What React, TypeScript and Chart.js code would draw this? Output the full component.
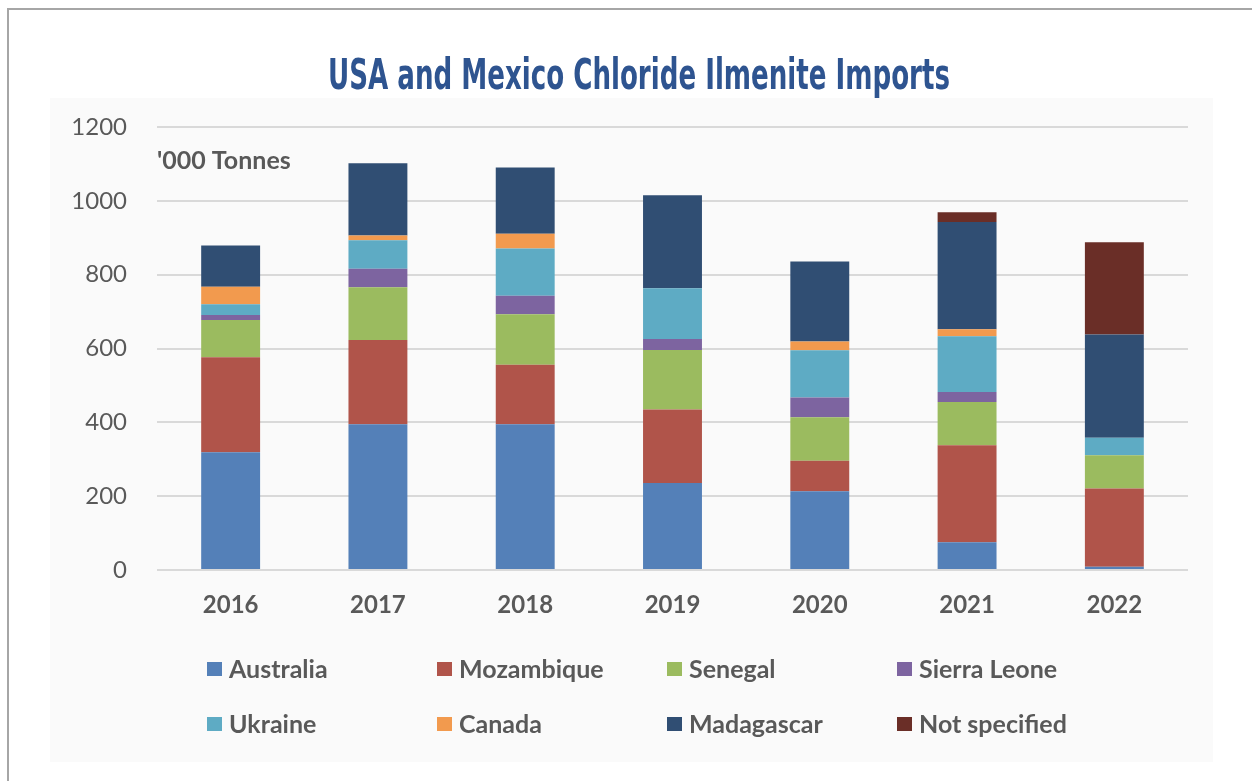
import React, { useEffect, useRef } from "react";
import { Chart, registerables } from "chart.js";

Chart.register(...registerables);

const chartTitle = "USA and Mexico Chloride Ilmenite Imports";
const unitLabel = "'000 Tonnes";
const years = ["2016", "2017", "2018", "2019", "2020", "2021", "2022"];
const yTickValues = [0, 200, 400, 600, 800, 1000, 1200];

const australia = [319, 395, 395, 236, 213, 75, 9];
const mozambique = [257, 228, 161, 199, 83, 263, 212];
const senegal = [101, 143, 137, 161, 118, 117, 90];
const sierraLeone = [14, 50, 50, 30, 53, 27, 0];
const ukraine = [29, 77, 128, 137, 128, 151, 47];
const canada = [47, 13, 40, 0, 24, 19, 0];
const madagascar = [112, 196, 179, 252, 217, 291, 280];
const notSpecified = [0, 0, 0, 0, 0, 26, 250];

const seriesNames = [
  "Australia",
  "Mozambique",
  "Senegal",
  "Sierra Leone",
  "Ukraine",
  "Canada",
  "Madagascar",
  "Not specified",
];
const seriesValues = [australia, mozambique, senegal, sierraLeone, ukraine, canada, madagascar, notSpecified];
const seriesColors = ["#5480B8", "#B0544A", "#9BBB5F", "#7D64A0", "#5EABC4", "#F29A4E", "#304E73", "#6A2E27"];

const TEXT_GRAY = "#595959";
const LABEL_FONT = "Lato, 'Open Sans', sans-serif";

const decorPlugin = {
  id: "decor",
  beforeDraw(chart: any) {
    const ctx = chart.ctx;
    ctx.save();
    ctx.fillStyle = "#ffffff";
    ctx.fillRect(0, 0, chart.width, chart.height);
    ctx.fillStyle = "#fafafa";
    ctx.fillRect(50, 98, 1163, 664);
    ctx.strokeStyle = "#a6a6a6";
    ctx.lineWidth = 2;
    ctx.beginPath();
    ctx.moveTo(8, chart.height);
    ctx.lineTo(8, 9);
    ctx.lineTo(chart.width, 9);
    ctx.stroke();
    ctx.restore();
  },
  afterDraw(chart: any) {
    const ctx = chart.ctx;
    ctx.save();
    // Title (condensed)
    ctx.font = "bold 42px 'Liberation Sans Narrow', 'DejaVu Sans Condensed', sans-serif";
    const w = ctx.measureText(chartTitle).width;
    const target = 622;
    ctx.fillStyle = "#2E5490";
    ctx.textBaseline = "middle";
    ctx.textAlign = "left";
    ctx.translate(328, 78);
    ctx.scale(target / w, 1);
    ctx.fillText(chartTitle, 0, 0);
    ctx.restore();

    ctx.save();
    ctx.font = `bold 25px ${LABEL_FONT}`;
    ctx.fillStyle = TEXT_GRAY;
    ctx.textBaseline = "middle";
    ctx.textAlign = "left";
    ctx.fillText(unitLabel, 157, 161);

    // Legend
    const colX = [207, 437, 667, 897];
    const rowY = [669, 724];
    ctx.font = `bold 25px ${LABEL_FONT}`;
    chart.data.datasets.forEach((ds: any, i: number) => {
      const cx = colX[i % 4];
      const cy = rowY[Math.floor(i / 4)];
      ctx.fillStyle = ds.backgroundColor;
      ctx.fillRect(cx, cy - 7, 15, 14);
      ctx.fillStyle = TEXT_GRAY;
      ctx.fillText(ds.label, cx + 22, cy + 1);
    });
    ctx.restore();
  },
};

export default function App() {
  const canvasRef = useRef<HTMLCanvasElement | null>(null);

  useEffect(() => {
    if (!canvasRef.current) return;
    const chart = new Chart(canvasRef.current, {
      type: "bar",
      data: {
        labels: years,
        datasets: seriesNames.map((name, i) => ({
          label: name,
          data: seriesValues[i],
          backgroundColor: seriesColors[i],
          borderWidth: 0,
          barPercentage: 0.4,
          categoryPercentage: 1,
        })),
      },
      options: {
        animation: false,
        responsive: false,
        maintainAspectRatio: false,
        layout: { padding: { left: 20, right: 64, top: 127, bottom: 151 } },
        plugins: {
          legend: { display: false },
          title: { display: false },
          tooltip: { enabled: false },
        },
        scales: {
          x: {
            stacked: true,
            grid: { display: false, drawTicks: false },
            border: { display: false },
            ticks: {
              color: TEXT_GRAY,
              font: { family: LABEL_FONT, size: 24, weight: "bold" },
              padding: 21,
            },
            afterFit: (s: any) => {
              s.height = 60;
            },
          },
          y: {
            stacked: true,
            min: 0,
            max: 1200,
            afterBuildTicks: (s: any) => {
              s.ticks = yTickValues.map((v) => ({ value: v }));
            },
            grid: { color: "#d9d9d9", lineWidth: 2, drawTicks: false },
            border: { display: false },
            ticks: {
              color: TEXT_GRAY,
              font: { family: LABEL_FONT, size: 24, weight: "normal" },
              padding: 30,
              callback: (v: any) => String(v),
            },
            afterFit: (s: any) => {
              s.width = 137;
            },
          },
        },
      },
      plugins: [decorPlugin],
    });
    return () => chart.destroy();
  }, []);

  return (
    <div style={{ position: "fixed", left: 0, top: 0, width: 1252, height: 781, background: "#fff" }}>
      <canvas ref={canvasRef} width={1252} height={781} style={{ display: "block" }} />
    </div>
  );
}
